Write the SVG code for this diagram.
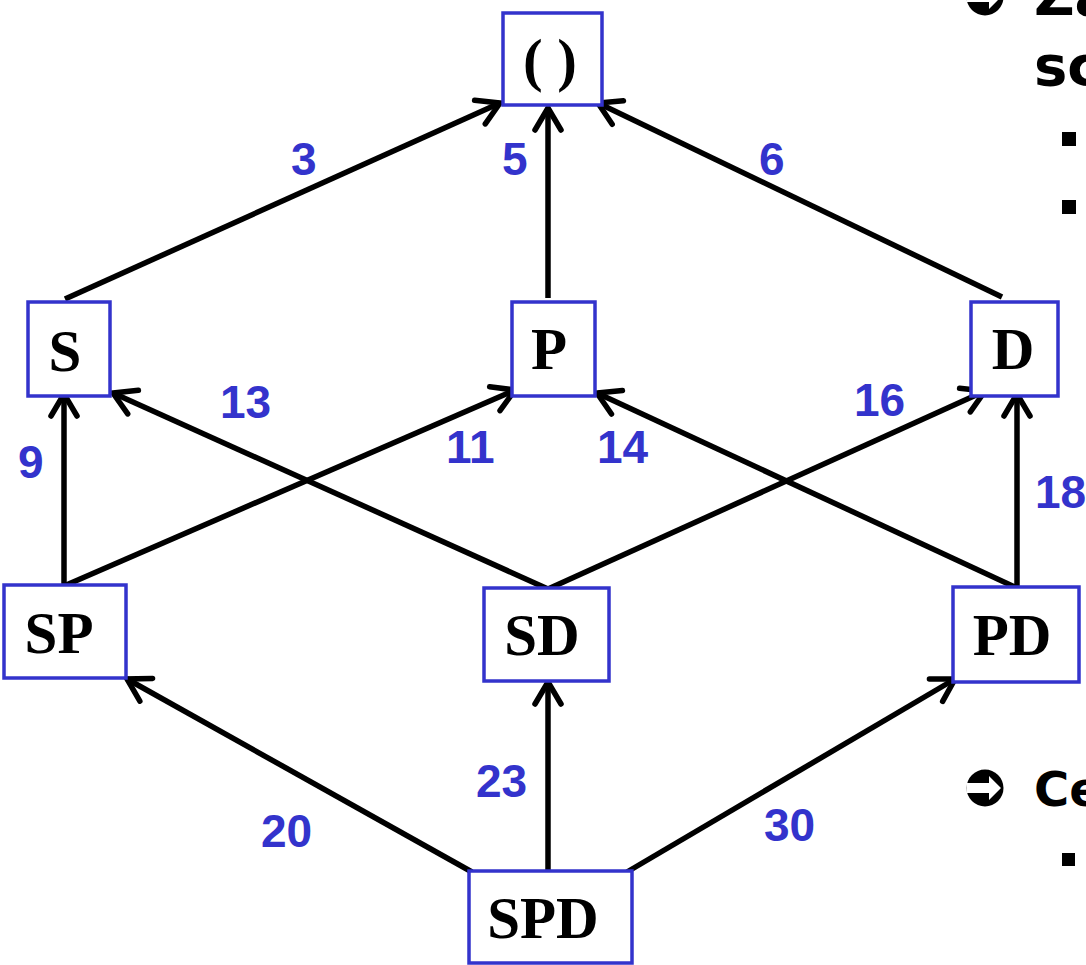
<svg xmlns="http://www.w3.org/2000/svg" width="1086" height="965" viewBox="0 0 1086 965">
<style>
.box{fill:#fff;stroke:#3333cc;stroke-width:3.5}
.nt{font-family:"Liberation Serif","Times New Roman",serif;font-weight:bold;font-size:59px;fill:#000;text-anchor:middle}
.lb{font-family:"Liberation Sans",Arial,sans-serif;font-weight:bold;font-size:46px;fill:#3333cc}
.ed{stroke:#000;stroke-width:5.5;fill:none}
.rt{font-family:"DejaVu Sans",Verdana,sans-serif;font-weight:bold;fill:#000}
</style>
<defs>
<marker id="ah" markerUnits="userSpaceOnUse" orient="auto" refX="0" refY="0" markerWidth="40" markerHeight="40" overflow="visible">
<path d="M -22 -13 L 0 0 L -22 13" fill="none" stroke="#000" stroke-width="5.5" stroke-linecap="round"/>
</marker>
<g id="icon">
<circle cx="0" cy="0" r="18.5" fill="#000"/>
<polygon points="-18.5,-5 4,-5 4,-12 16,0 4,12 4,5 -18.5,5" fill="#fff"/>
</g>
</defs>
<rect width="1086" height="965" fill="#fff"/>
<g id="connectors">
<line class="ed" x1="65" y1="299" x2="500" y2="103" marker-end="url(#ah)"/>
<line class="ed" x1="548" y1="298" x2="548" y2="108" marker-end="url(#ah)"/>
<line class="ed" x1="1002" y1="297" x2="598" y2="103" marker-end="url(#ah)"/>
<line class="ed" x1="64" y1="586" x2="64" y2="394" marker-end="url(#ah)"/>
<line class="ed" x1="64" y1="586" x2="515" y2="390" marker-end="url(#ah)"/>
<line class="ed" x1="548" y1="589" x2="113" y2="393" marker-end="url(#ah)"/>
<line class="ed" x1="548" y1="589" x2="985" y2="391" marker-end="url(#ah)"/>
<line class="ed" x1="1017" y1="588" x2="597" y2="393" marker-end="url(#ah)"/>
<line class="ed" x1="1017" y1="588" x2="1017" y2="394" marker-end="url(#ah)"/>
<line class="ed" x1="472" y1="872" x2="127" y2="679" marker-end="url(#ah)"/>
<line class="ed" x1="548" y1="872" x2="548" y2="682" marker-end="url(#ah)"/>
<line class="ed" x1="627" y1="872" x2="955" y2="679" marker-end="url(#ah)"/>
</g>
<g id="edge-labels">
<text class="lb" x="291" y="175">3</text>
<text class="lb" x="502" y="175">5</text>
<text class="lb" x="759" y="175">6</text>
<text class="lb" x="18" y="478">9</text>
<text class="lb" x="446" y="463">11</text>
<text class="lb" x="220" y="418">13</text>
<text class="lb" x="597" y="463">14</text>
<text class="lb" x="854" y="416">16</text>
<text class="lb" x="1035" y="508">18</text>
<text class="lb" x="261" y="847">20</text>
<text class="lb" x="476" y="797">23</text>
<text class="lb" x="764" y="841">30</text>
</g>
<g id="node-empty"><rect class="box" x="503" y="13" width="99" height="92"/><text class="nt" x="550" y="80">( )</text></g>
<g id="node-S"><rect class="box" x="28" y="302" width="82" height="94"/><text class="nt" x="65" y="371">S</text></g>
<g id="node-P"><rect class="box" x="512" y="302" width="83" height="94"/><text class="nt" x="549" y="369">P</text></g>
<g id="node-D"><rect class="box" x="971" y="302" width="87" height="94"/><text class="nt" x="1013" y="369">D</text></g>
<g id="node-SP"><rect class="box" x="4" y="585" width="122" height="93"/><text class="nt" x="59" y="653">SP</text></g>
<g id="node-SD"><rect class="box" x="484" y="588" width="125" height="93"/><text class="nt" x="542" y="655">SD</text></g>
<g id="node-PD"><rect class="box" x="953" y="587" width="126" height="95"/><text class="nt" x="1012" y="655">PD</text></g>
<g id="node-SPD"><rect class="box" x="469" y="871" width="163" height="92"/><text class="nt" x="543" y="938">SPD</text></g>
<g id="side-text">
<use href="#icon" x="985" y="-3"/>
<text class="rt" x="1034" y="15" font-size="56">Za</text>
<text class="rt" x="1034" y="85" font-size="56">sc</text>
<rect x="1062" y="132" width="14" height="14" fill="#000"/>
<rect x="1062" y="200" width="14" height="14" fill="#000"/>
<use href="#icon" x="985" y="788"/>
<text class="rt" x="1034" y="806" font-size="48">Ce</text>
<rect x="1062" y="853" width="13" height="13" fill="#000"/>
</g>
</svg>
